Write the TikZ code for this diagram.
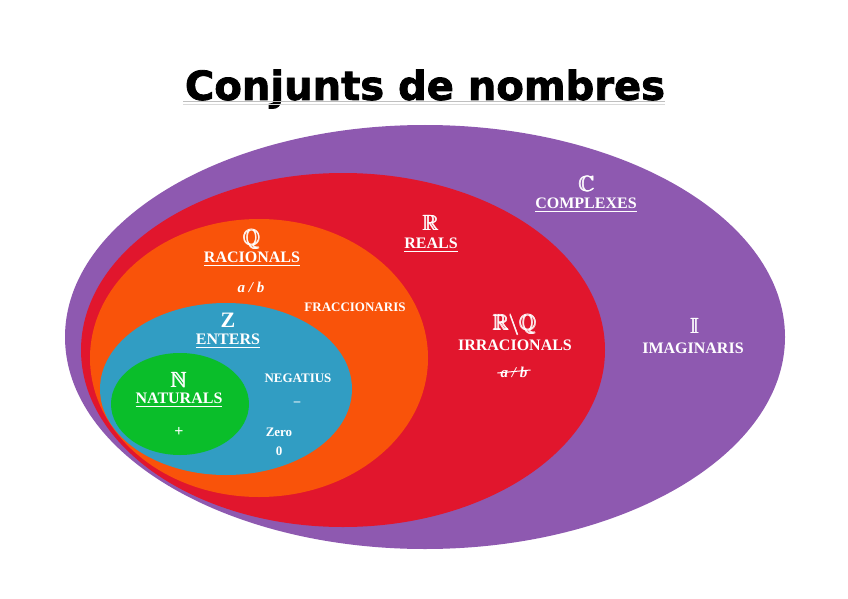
\documentclass[tikz,border=0pt]{standalone}
\usepackage{fontspec}
\setmainfont{Liberation Serif}
\usepackage{amsmath}
\usepackage{amssymb}
\usepackage{graphicx}
\usetikzlibrary{positioning}
\newfontfamily\titlefont[FakeBold=2]{DejaVu Sans Bold}

\definecolor{complexcol}{RGB}{142,89,176}
\definecolor{realcol}{RGB}{225,22,45}
\definecolor{ratcol}{RGB}{249,83,10}
\definecolor{intcol}{RGB}{49,157,195}
\definecolor{natcol}{RGB}{10,190,42}

\tikzset{
  setsym/.style={text=white, inner sep=0pt, font=\fontsize{22}{24}\selectfont},
  setname/.style={text=white, inner sep=0pt, font=\fontsize{16}{18}\selectfont\bfseries},
  smallname/.style={text=white, inner sep=0pt, font=\fontsize{13}{15}\selectfont\bfseries}
}

\begin{document}
\begin{tikzpicture}[x=1pt,y=-1pt]
\useasboundingbox (0,0) rectangle (848,599);
\fill[white] (0,0) rectangle (848,599);

% Title
\node[inner sep=0pt] (title) at (425,89) {\resizebox{480pt}{!}{\titlefont Conjunts de nombres}};
\draw[gray!50, line width=1pt] (183,102) -- (665,102);
\draw[gray!30, line width=1pt] (183,105) -- (665,105);

% Sets
\foreach \cx/\cy/\rx/\ry/\col in {425/337/360/212/complexcol, 343/350/262/177/realcol,
    259/358/169/139/ratcol, 226/389/126/86/intcol, 180/404/69/51/natcol}
    \fill[\col] (\cx,\cy) ellipse (\rx pt and \ry pt);

% Complexes
\node[setsym] (csym) at (587,184) {$\pmb{\mathbb{C}}$};
\node[setname] (cname) at (586,205) {\underline{COMPLEXES}};
\node[setsym] (isym) at (695,326) {$\pmb{\mathbb{I}}$};
\node[setname] (iname) at (693,348) {IMAGINARIS};

% Reals
\node[setsym] (rsym) at (431,223) {$\pmb{\mathbb{R}}$};
\node[setname] (rname) at (431,245) {\underline{REALS}};
\node[setsym] (irrsym) at (515,325) {$\pmb{\mathbb{R}}\pmb{\backslash}\pmb{\mathbb{Q}}$};
\node[setname] (irrname) at (515,345) {IRRACIONALS};
\node[setname, font=\fontsize{15}{18}\selectfont\bfseries\itshape] (irrfrac) at (514,372) {a / b};
\draw[white, line width=1pt] ([xshift=-3pt,yshift=-1pt]irrfrac.west) -- ([xshift=3pt,yshift=2pt]irrfrac.east);

% Rationals
\node[setsym] (qsym) at (252,239) {$\pmb{\mathbb{Q}}$};
\node[setname] (qname) at (252,259) {\underline{RACIONALS}};
\node[setname, font=\fontsize{15}{18}\selectfont\bfseries\itshape] (qfrac) at (251,287) {a / b};
\node[smallname] (fracname) at (355,307) {FRACCIONARIS};

% Integers
\node[setsym, font=\fontsize{22}{24}\selectfont\bfseries] (zsym) at (228,320) {Z};
\node[setname] (zname) at (228,341) {\underline{ENTERS}};
\node[smallname] (negname) at (298,378) {NEGATIUS};
\node[smallname] (negsign) at (297,404) {--};
\node[smallname] (zeroname) at (279,432) {Zero};
\node[smallname] (zerosym) at (279,451) {0};

% Naturals
\node[setsym] (nsym) at (179,380) {$\pmb{\mathbb{N}}$};
\node[setname] (nname) at (179,400) {\underline{NATURALS}};
\node[setname] (plussign) at (179,432) {+};
\end{tikzpicture}
\end{document}
